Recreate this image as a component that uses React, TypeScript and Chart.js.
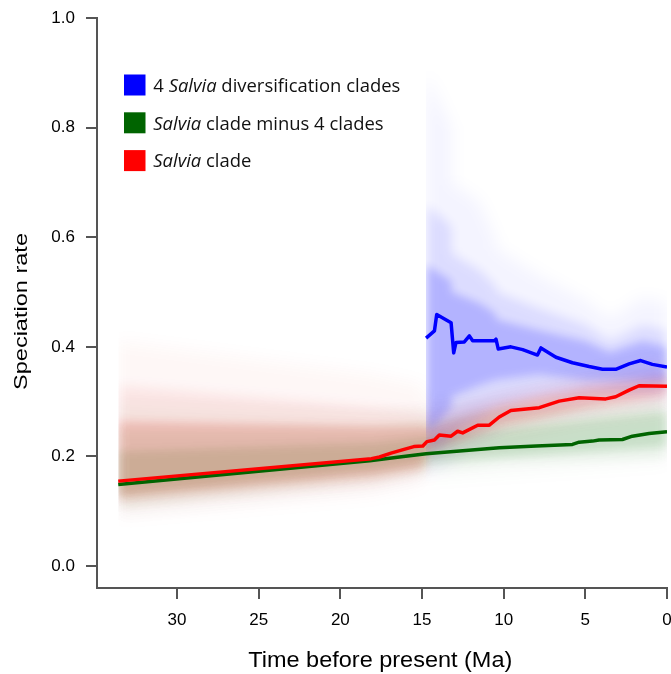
import React, { useEffect, useRef } from 'react';
import { Chart, registerables } from 'chart.js';

// ---- Mean rate lines (time before present in Ma, speciation rate) ----
const blueX = [14.75, 14.24, 14.1, 13.22, 13.06, 12.92, 12.41, 12.1, 11.9, 10.57, 10.47, 10.33, 9.56, 8.84, 7.93, 7.72, 6.8, 5.79, 4.77, 3.95, 3.14, 2.32, 1.61, 0.9, 0];
const blueY = [0.416, 0.429, 0.459, 0.444, 0.389, 0.408, 0.409, 0.42, 0.411, 0.411, 0.414, 0.396, 0.4, 0.395, 0.385, 0.398, 0.381, 0.371, 0.364, 0.359, 0.359, 0.369, 0.375, 0.368, 0.363];

const redX = [33.6, 18.1, 17.6, 16.9, 16.1, 15.5, 14.95, 14.7, 14.24, 13.94, 13.22, 12.82, 12.51, 11.59, 10.88, 10.27, 9.56, 7.82, 6.6, 5.38, 3.75, 3.14, 2.32, 1.71, 0];
const redY = [0.155, 0.196, 0.199, 0.206, 0.213, 0.218, 0.219, 0.227, 0.23, 0.239, 0.237, 0.246, 0.243, 0.257, 0.257, 0.272, 0.284, 0.289, 0.301, 0.307, 0.305, 0.309, 0.321, 0.329, 0.328];

const greenX = [33.6, 18.2, 16.38, 14.75, 10.27, 8.0, 5.79, 5.38, 4.56, 4.16, 2.73, 2.12, 1.1, 0];
const greenY = [0.149, 0.192, 0.199, 0.205, 0.216, 0.219, 0.222, 0.226, 0.228, 0.23, 0.231, 0.237, 0.242, 0.245];

// ---- Credible-interval shading (outer / mid / inner envelopes) ----
const blueBandX = [14.75, 13.2, 13.19, 11.5, 10.47, 10.46, 7.82, 5, 3.5, 1.5, 0];
const blueOuterHi = [0.9, 0.8, 0.7, 0.665, 0.595, 0.58, 0.53, 0.485, 0.45, 0.49, 0.48];
const blueOuterLo = [0.17, 0.19, 0.2, 0.23, 0.25, 0.26, 0.28, 0.29, 0.3, 0.3, 0.3];
const blueMidHi = [0.66, 0.62, 0.57, 0.54, 0.51, 0.5, 0.47, 0.44, 0.41, 0.44, 0.43];
const blueMidLo = [0.2, 0.23, 0.24, 0.27, 0.29, 0.29, 0.31, 0.32, 0.32, 0.32, 0.32];
const blueInnerHi = [0.55, 0.52, 0.5, 0.48, 0.46, 0.45, 0.43, 0.41, 0.39, 0.41, 0.4];
const blueInnerLo = [0.24, 0.29, 0.31, 0.33, 0.34, 0.34, 0.35, 0.34, 0.34, 0.34, 0.34];

const redBandX = [33.6, 18, 14.9, 14.7, 10, 5, 0];
const redOuterHi = [0.41, 0.35, 0.33, 0.3, 0.33, 0.36, 0.39];
const redOuterLo = [0.09, 0.13, 0.15, 0.19, 0.23, 0.26, 0.28];
const redMidHi = [0.33, 0.29, 0.28, 0.27, 0.31, 0.34, 0.36];
const redMidLo = [0.11, 0.15, 0.17, 0.2, 0.25, 0.28, 0.3];
const redInnerHi = [0.265, 0.255, 0.255, 0.25, 0.295, 0.325, 0.345];
const redInnerLo = [0.125, 0.165, 0.18, 0.21, 0.26, 0.29, 0.315];

const greenBandX = [33.6, 18, 14.75, 10, 5, 0];
const greenOuterHi = [0.3, 0.28, 0.29, 0.3, 0.31, 0.32];
const greenOuterLo = [0.09, 0.14, 0.16, 0.17, 0.18, 0.19];
const greenMidHi = [0.25, 0.25, 0.26, 0.28, 0.29, 0.3];
const greenMidLo = [0.11, 0.16, 0.175, 0.19, 0.195, 0.2];
const greenInnerHi = [0.21, 0.225, 0.235, 0.25, 0.265, 0.28];
const greenInnerLo = [0.13, 0.175, 0.19, 0.2, 0.21, 0.22];

// ---- Axes / labels ----
const X_TITLE = 'Time before present (Ma)';
const Y_TITLE = 'Speciation rate';
const legendItems = [
  { color: '#0000ff', pre: '4 ', italic: 'Salvia', post: ' diversification clades' },
  { color: '#006400', pre: '', italic: 'Salvia', post: ' clade minus 4 clades' },
  { color: '#ff0000', pre: '', italic: 'Salvia', post: ' clade' },
];

const AXIS_FONT = '"Liberation Sans", Arial, Helvetica, sans-serif';
const LEGEND_FONT = '"Open Sans", "Noto Sans", sans-serif';

// Soft-edged shading: blur each band fill and clip it to its own time span.
// Registered before the built-ins so its hooks wrap the filler's drawing.
const softBandPlugin = {
  id: 'softBand',
  beforeDatasetDraw(chart: any, args: any) {
    const ds = chart.data.datasets[args.index];
    if (!ds || !ds.blur) return;
    const ctx = chart.ctx as CanvasRenderingContext2D;
    const area = chart.chartArea;
    const xs = chart.scales.x;
    const left = Math.max(area.left, xs.getPixelForValue(ds.clipFrom));
    ctx.save();
    ctx.beginPath();
    ctx.rect(left, area.top, area.right - left, area.bottom - area.top);
    ctx.clip();
    ctx.filter = `blur(${ds.blur}px)`;
  },
  afterDatasetDraw(chart: any, args: any) {
    const ds = chart.data.datasets[args.index];
    if (!ds || !ds.blur) return;
    chart.ctx.restore();
  },
};

Chart.register(softBandPlugin as any);
Chart.register(...registerables);

const pts = (xs: number[], ys: number[]) => xs.map((x, i) => ({ x, y: ys[i] }));

function band(xs: number[], hi: number[], lo: number[], color: string, blur: number) {
  return [
    { data: pts(xs, hi), showLine: false, borderWidth: 0, borderColor: 'transparent', pointRadius: 0, fill: false, order: 1 },
    { data: pts(xs, lo), showLine: false, borderWidth: 0, borderColor: 'transparent', pointRadius: 0, fill: '-1', backgroundColor: color, order: 1, blur, clipFrom: xs[0] },
  ];
}

function line(xs: number[], ys: number[], color: string) {
  return { data: pts(xs, ys), borderColor: color, borderWidth: 3.5, pointRadius: 0, fill: false, tension: 0, order: 0, borderJoinStyle: 'round', borderCapStyle: 'butt' };
}

const textPlugin = {
  id: 'customText',
  afterDraw(chart: any) {
    const ctx = chart.ctx as CanvasRenderingContext2D;
    ctx.save();
    ctx.fillStyle = '#000';
    ctx.textAlign = 'left';
    ctx.textBaseline = 'alphabetic';

    // X title
    ctx.font = `22px ${AXIS_FONT}`;
    const wx = ctx.measureText(X_TITLE).width;
    ctx.save();
    ctx.translate(248.3, 666.7);
    ctx.scale(264 / wx, 1);
    ctx.fillText(X_TITLE, 0, 0);
    ctx.restore();

    // Y title
    ctx.font = `19px ${AXIS_FONT}`;
    const wy = ctx.measureText(Y_TITLE).width;
    ctx.save();
    ctx.translate(27, 390);
    ctx.rotate(-Math.PI / 2);
    ctx.scale(157 / wy, 1);
    ctx.fillText(Y_TITLE, 0, 0);
    ctx.restore();

    // Legend
    const size = 19;
    const regular = `${size}px ${LEGEND_FONT}`;
    const ital = `italic ${size}px ${LEGEND_FONT}`;
    const measure = (it: any) => {
      ctx.font = regular;
      let w = ctx.measureText(it.pre).width + ctx.measureText(it.post).width;
      ctx.font = ital;
      w += ctx.measureText(it.italic).width;
      return w;
    };
    const sx = 247 / measure(legendItems[0]);
    legendItems.forEach((it, i) => {
      const cy = 85 + i * 37.8;
      ctx.fillStyle = it.color;
      ctx.fillRect(124, cy - 10.5, 21.5, 21);
      ctx.fillStyle = '#111';
      ctx.save();
      ctx.translate(153.3, cy + 6.8);
      ctx.scale(sx, 1);
      let x = 0;
      ctx.font = regular;
      if (it.pre) { ctx.fillText(it.pre, x, 0); x += ctx.measureText(it.pre).width; }
      ctx.font = ital;
      ctx.fillText(it.italic, x, 0); x += ctx.measureText(it.italic).width;
      ctx.font = regular;
      ctx.fillText(it.post, x, 0);
      ctx.restore();
    });
    ctx.restore();
  },
};

export default function App() {
  const ref = useRef<HTMLCanvasElement | null>(null);
  useEffect(() => {
    if (!ref.current) return;
    const axisColor = '#555555';
    const chart = new Chart(ref.current, {
      type: 'line',
      data: {
        datasets: [
          line(blueX, blueY, '#0000ff'),
          line(redX, redY, '#ff0000'),
          line(greenX, greenY, '#006400'),
          ...band(blueBandX, blueInnerHi, blueInnerLo, 'rgba(0,0,255,0.19)', 4),
          ...band(blueBandX, blueMidHi, blueMidLo, 'rgba(0,0,255,0.10)', 6),
          ...band(blueBandX, blueOuterHi, blueOuterLo, 'rgba(0,0,255,0.045)', 8),
          ...band(redBandX, redInnerHi, redInnerLo, 'rgba(220,30,10,0.17)', 4),
          ...band(redBandX, redMidHi, redMidLo, 'rgba(220,30,10,0.08)', 6),
          ...band(redBandX, redOuterHi, redOuterLo, 'rgba(220,30,10,0.035)', 8),
          ...band(greenBandX, greenInnerHi, greenInnerLo, 'rgba(0,110,0,0.13)', 4),
          ...band(greenBandX, greenMidHi, greenMidLo, 'rgba(0,110,0,0.07)', 6),
          ...band(greenBandX, greenOuterHi, greenOuterLo, 'rgba(0,110,0,0.035)', 8),
        ] as any,
      },
      options: {
        animation: false,
        responsive: false,
        devicePixelRatio: 1,
        events: [],
        layout: { padding: { top: 18, right: 4, left: 0, bottom: 0 } },
        plugins: {
          legend: { display: false },
          tooltip: { enabled: false },
          filler: { propagate: false },
        },
        scales: {
          x: {
            type: 'linear',
            reverse: true,
            min: 0,
            max: 34.9,
            afterFit(s: any) { s.height = 86; s.paddingLeft = 0; s.paddingRight = 0; },
            ticks: {
              stepSize: 5,
              includeBounds: false,
              padding: 11,
              color: '#000',
              maxRotation: 0,
              autoSkip: false,
              font: { family: AXIS_FONT, size: 17 },
              callback: (v: any) => String(v),
            },
            grid: { drawOnChartArea: false, drawTicks: true, tickLength: 11, color: axisColor, lineWidth: 2 },
            border: { display: true, color: axisColor, width: 2 },
            title: { display: false },
          },
          y: {
            type: 'linear',
            min: -0.04,
            max: 1.0,
            afterFit(s: any) { s.width = 97; s.paddingTop = 0; s.paddingBottom = 0; },
            ticks: {
              stepSize: 0.2,
              includeBounds: false,
              padding: 11,
              color: '#000',
              font: { family: AXIS_FONT, size: 17 },
              callback: (v: any) => Number(v).toFixed(1),
            },
            grid: { drawOnChartArea: false, drawTicks: true, tickLength: 11, color: axisColor, lineWidth: 2 },
            border: { display: true, color: axisColor, width: 2 },
            title: { display: false },
          },
        },
      } as any,
      plugins: [textPlugin],
    });
    return () => chart.destroy();
  }, []);
  return (
    <div style={{ position: 'absolute', left: 0, top: 0, width: 671, height: 674, background: '#fff' }}>
      <canvas ref={ref} width={671} height={674} style={{ display: 'block' }} />
    </div>
  );
}
